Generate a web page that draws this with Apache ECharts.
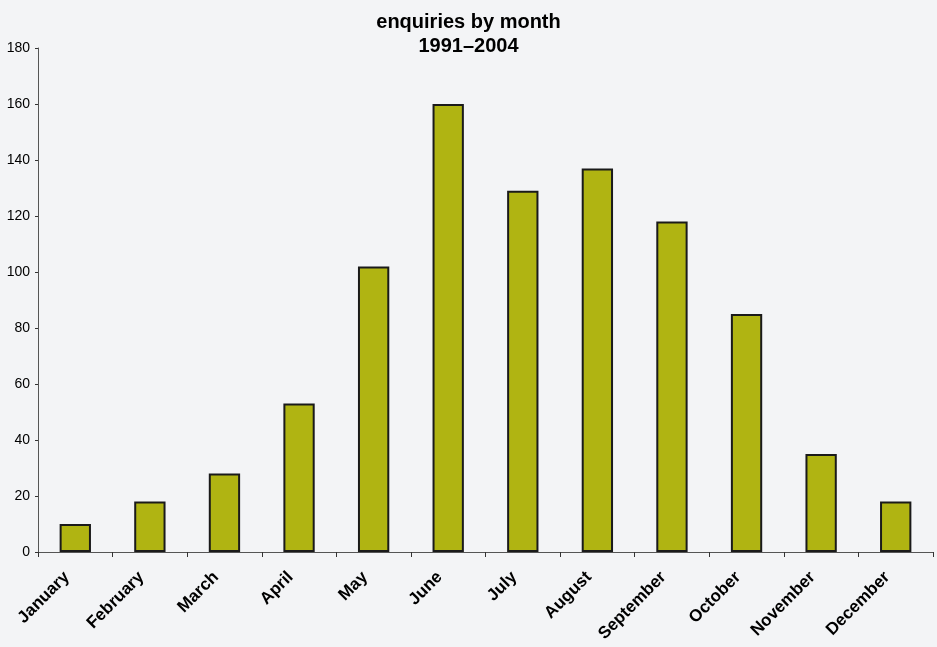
<!DOCTYPE html>
<html><head><meta charset="utf-8">
<script src="https://cdn.jsdelivr.net/npm/echarts@6/dist/echarts.min.js"></script>
<style>html,body{margin:0;padding:0;background:#f3f4f6;}#c{width:937px;height:647px;}</style>
</head><body><div id="c"></div>
<script>
const months = ["January","February","March","April","May","June","July","August","September","October","November","December"];
const enquiries = [10, 18, 28, 53, 102, 160, 129, 137, 118, 85, 35, 18];
const yTicks = {min: 0, max: 180, interval: 20};

const chart = echarts.init(document.getElementById('c'), null, {renderer: 'canvas'});
chart.setOption({
  backgroundColor: '#f3f4f6',
  animation: false,
  title: {
    text: 'enquiries by month\n1991–2004',
    left: 'center', top: 5,
    textStyle: {fontFamily: 'Liberation Sans, Arial, sans-serif', fontSize: 20, fontWeight: 'bold', color: '#000', lineHeight: 24}
  },
  grid: {left: 38, right: 4, top: 48, bottom: 95},
  xAxis: {
    type: 'category', data: months, boundaryGap: true,
    axisLine: {lineStyle: {color: '#555', width: 1}},
    axisTick: {show: true, alignWithLabel: false, length: 5, lineStyle: {color: '#333'}},
    axisLabel: {rotate: 45, interval: 0, margin: 14, padding: [0, 12, 0, 0], fontFamily: 'Liberation Sans, Arial, sans-serif', fontSize: 17, fontWeight: 'bold', color: '#000'}
  },
  yAxis: {
    type: 'value', min: yTicks.min, max: yTicks.max, interval: yTicks.interval,
    axisLine: {show: true, lineStyle: {color: '#555', width: 1}},
    axisTick: {show: true, length: 3, lineStyle: {color: '#333'}},
    splitLine: {show: false},
    axisLabel: {margin: 8, fontFamily: 'Liberation Sans, Arial, sans-serif', fontSize: 14, color: '#000'}
  },
  series: [{
    type: 'bar', data: enquiries, barWidth: '42%',
    itemStyle: {color: '#b0b412', borderColor: '#1a1a1a', borderWidth: 2}
  }]
});
</script></body></html>
